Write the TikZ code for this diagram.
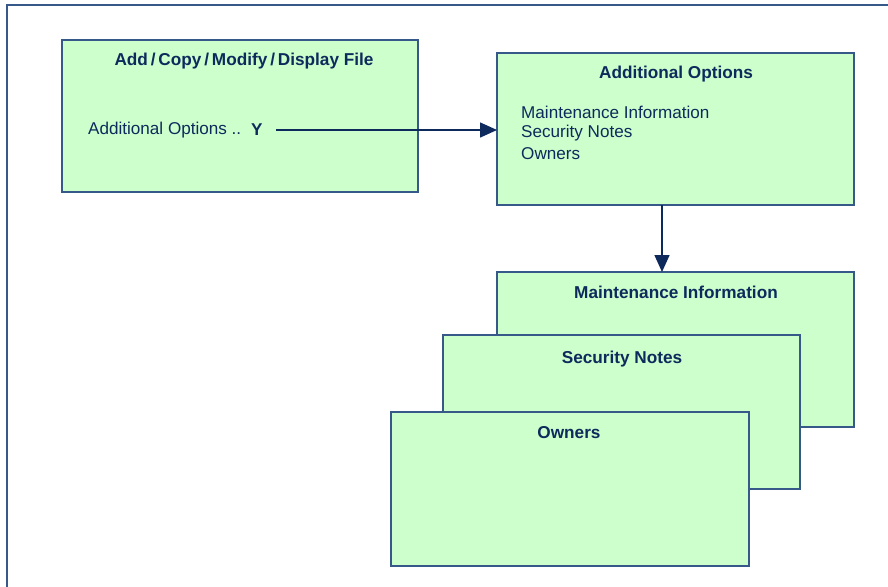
\documentclass[tikz,border=0pt]{standalone}
\usepackage{fontspec}
\setmainfont{Liberation Sans}
\usetikzlibrary{arrows.meta,calc}
\definecolor{boxfill}{HTML}{CCFFCC}
\definecolor{boxline}{HTML}{36598A}
\definecolor{txt}{HTML}{0E2A5C}
\tikzset{
  panel/.style={draw=boxline, fill=boxfill, line width=1.6pt, rectangle, inner sep=0pt, outer sep=0pt},
  ttl/.style={text=txt, font=\fontsize{17.2}{20}\selectfont\bfseries, inner sep=0pt, anchor=center},
  body/.style={text=txt, font=\fontsize{17.1}{20}\selectfont, inner sep=0pt, anchor=west},
  conn/.style={draw=txt, line width=1.5pt, -{Triangle[length=17pt,width=15pt]}}
}
\begin{document}
\begin{tikzpicture}[x=1pt,y=-1pt]
\useasboundingbox (0,0) rectangle (888,586);
\clip (0,0) rectangle (888,586);
\fill[white] (0,0) rectangle (888,586);
\draw[boxline, line width=2pt] (7,5) rectangle (910,610);
% boxes
\node[panel, minimum width=356pt, minimum height=152pt] (b1) at (240,116) {};
\node[panel, minimum width=357pt, minimum height=152pt] (b2) at (675.5,129) {};
\node[panel, minimum width=357pt, minimum height=155pt] (b3) at (675.5,349.5) {};
\node[panel, minimum width=357pt, minimum height=154pt] (b4) at (621.5,412) {};
\node[panel, minimum width=358pt, minimum height=154pt] (b5) at (570,489) {};
% titles
\node[ttl] (t1) at (244,61) {Add\,/\,Copy\,/\,Modify\,/\,Display File};
\node[ttl] (t2) at (676,74) {Additional Options};
\node[ttl] (t3) at (676,292) {Maintenance Information};
\node[ttl] (t4) at (622,359) {Security Notes};
\node[ttl] (t5) at (569,433) {Owners};
% body texts
\node[body] (opt) at (88,130) {Additional Options ..};
\node[body, font=\fontsize{17.1}{20}\selectfont\bfseries] (yv) at (251,130) {Y};
\coordinate (ys) at (276,130);
\node[body] (m1) at (521,112) {Maintenance Information};
\node[body] (m2) at (521,133) {Security Notes};
\node[body] (m3) at (521,154) {Owners};
% connectors
\draw[conn] (ys) -- (ys -| b2.west);
\draw[conn] ($(b2.south)+(-13.5,0)$) -- ($(b3.north)+(-13.5,0)$);
\end{tikzpicture}
\end{document}
